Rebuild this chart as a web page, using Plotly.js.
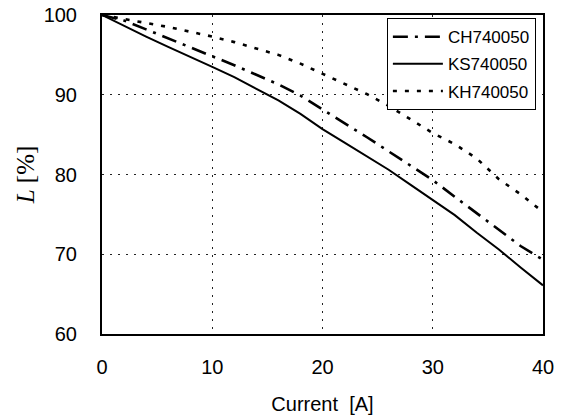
<!DOCTYPE html>
<html>
<head>
<meta charset="utf-8">
<script src="https://cdn.plot.ly/plotly-3.0.1.min.js"></script>
<style>html,body{margin:0;padding:0;background:#fff;}#chart{width:567px;height:420px;}</style>
</head>
<body>
<div id="chart"></div>
<script>
const current = [0, 2, 4, 6, 8, 10, 12, 14, 16, 18, 20, 22, 24, 26, 28, 30, 32, 34, 36, 38, 40];
const ch740050 = [100, 99.3, 98.2, 97.1, 96.0, 94.9, 93.7, 92.5, 91.3, 89.9, 88.2, 86.5, 84.7, 82.9, 81.1, 79.3, 77.2, 75.1, 73.1, 71.0, 69.3];
const ks740050 = [100, 98.6, 97.3, 96.0, 94.8, 93.5, 92.2, 90.8, 89.3, 87.6, 85.7, 84.0, 82.3, 80.6, 78.7, 76.8, 74.9, 72.7, 70.6, 68.3, 66.1];
const kh740050 = [100, 99.5, 99.0, 98.5, 97.9, 97.3, 96.6, 95.8, 95.0, 93.9, 92.6, 91.3, 90.1, 88.6, 86.9, 85.2, 83.8, 82.0, 79.4, 77.5, 75.3];
const seriesNames = ['CH740050', 'KS740050', 'KH740050'];
const xTicks = [0, 10, 20, 30, 40];
const yTicks = [60, 70, 80, 90, 100];

const sans = 'Arial, "Liberation Sans", sans-serif';
const traces = [
  {x: current, y: ch740050, name: seriesNames[0], legendgroup: 'a', mode: 'lines',
   line: {color: '#000', width: 2.6, dash: '15px,7px,3px,7px'}},
  {x: current, y: ks740050, name: seriesNames[1], legendgroup: 'b', mode: 'lines',
   line: {color: '#000', width: 2}},
  {x: current, y: kh740050, name: seriesNames[2], legendgroup: 'c', mode: 'lines',
   line: {color: '#000', width: 2.6, dash: '4px,8px'}}
];
const layout = {
  width: 567, height: 420,
  margin: {l: 102, r: 24, t: 15, b: 86},
  paper_bgcolor: '#fff', plot_bgcolor: '#fff',
  font: {family: sans, color: '#000', size: 20},
  showlegend: true,
  legend: {x: 0.646, y: 0.99, xanchor: 'left', yanchor: 'top',
    bgcolor: '#fff', bordercolor: '#000', borderwidth: 1,
    font: {family: sans, size: 17, color: '#000'},
    tracegroupgap: 2, itemwidth: 50},
  xaxis: {range: [0, 40], tickvals: xTicks, ticktext: xTicks.map(String),
    showline: true, linecolor: '#000', linewidth: 2, mirror: true,
    showgrid: true, gridcolor: '#222', gridwidth: 1, griddash: '2px,6px',
    zeroline: false, ticks: '', ticklabelstandoff: 14,
    tickfont: {family: sans, size: 20, color: '#000'},
    title: {text: 'Current&nbsp; [A]', font: {family: sans, size: 20, color: '#000'}, standoff: 20}},
  yaxis: {range: [60, 100], tickvals: yTicks, ticktext: yTicks.map(String),
    showline: true, linecolor: '#000', linewidth: 2, mirror: true,
    showgrid: true, gridcolor: '#222', gridwidth: 1, griddash: '2px,6px',
    zeroline: false, ticks: '', ticklabelstandoff: 19,
    tickfont: {family: sans, size: 20, color: '#000'},
    title: {text: '<i>L</i> [%]', font: {family: '"Liberation Serif", "Times New Roman", serif', size: 25, color: '#000'}, standoff: 2}}
};
Plotly.newPlot('chart', traces, layout, {displayModeBar: false, staticPlot: true});
</script>
</body>
</html>
